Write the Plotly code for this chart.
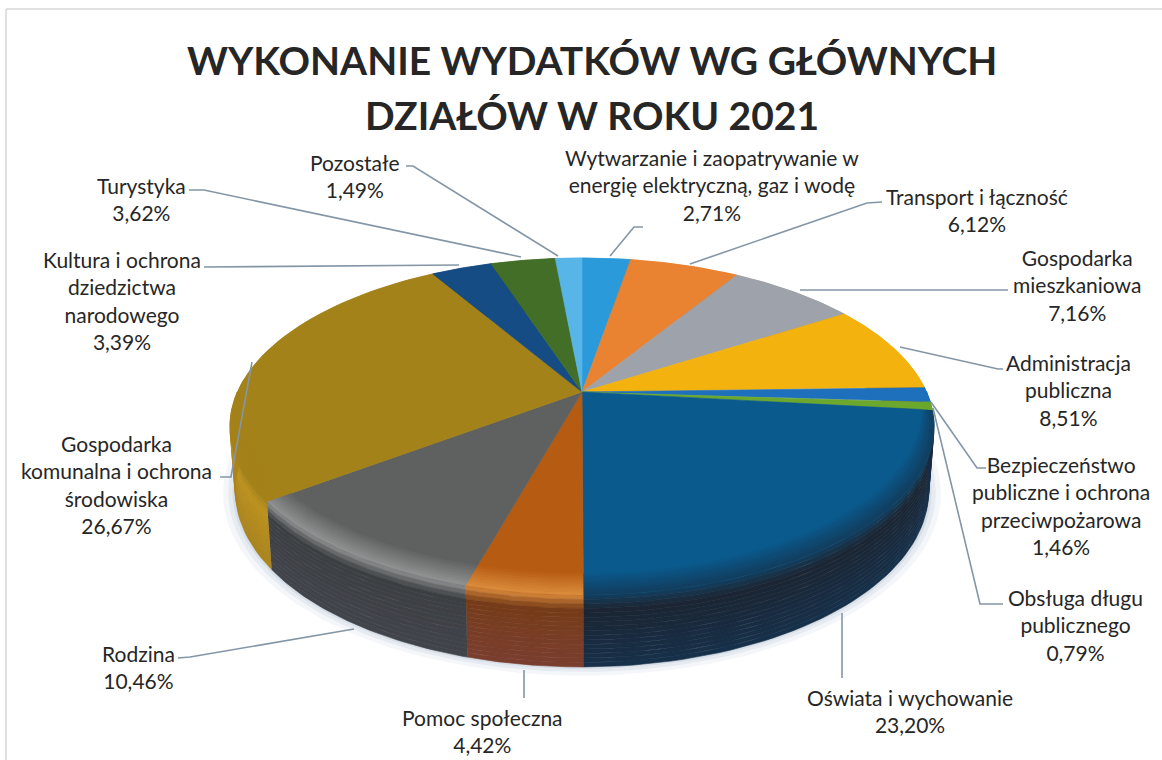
import numpy as np
import plotly.graph_objects as go

# ---- data ----
categories = ["Wytwarzanie i zaopatrywanie w<br>energię elektryczną, gaz i wodę",
              "Transport i łączność", "Gospodarka<br>mieszkaniowa",
              "Administracja<br>publiczna",
              "Bezpieczeństwo<br>publiczne i ochrona<br>przeciwpożarowa",
              "Obsługa długu<br>publicznego", "Oświata i wychowanie",
              "Pomoc społeczna", "Rodzina",
              "Gospodarka<br>komunalna i ochrona<br>środowiska",
              "Kultura i ochrona<br>dziedzictwa<br>narodowego", "Turystyka", "Pozostałe"]
values = [2.71, 6.12, 7.16, 8.51, 1.46, 0.79, 23.20, 4.42, 10.46, 26.67, 3.39, 3.62, 1.49]
top_colors = ["#2A9ADB", "#E98231", "#9EA2AA", "#F3B20E", "#1F70BC", "#6CA72E", "#0A5A8E",
              "#B55B12", "#5F6060", "#A4821A", "#154C84", "#426E28", "#58B5E8"]
rim_colors = ["#2A9ADB", "#E98231", "#9EA2AA", "#F3B20E", "#1F70BC", "#6CA72E", "#123F60",
              "#D98A3A", "#8E9090", "#A4821A", "#154C84", "#426E28", "#58B5E8"]
side_colors = ["#1B6FA0", "#A85A20", "#70747A", "#B08008", "#14507F", "#4A7A20", "#1B2532",
               "#763C18", "#3C3F42", "#BC901C", "#0F3760", "#2F5020", "#3A85AE"]
foot_colors = ["#1B6FA0", "#A85A20", "#70747A", "#B08008", "#14507F", "#4A7A20", "#17304A",
               "#7A3E30", "#42444C", "#A8821C", "#0F3760", "#2F5020", "#3A85AE"]

title_lines = ["WYKONANIE WYDATKÓW WG GŁÓWNYCH", "DZIAŁÓW W ROKU 2021"]
label_x = [712, 977, 1077, 1068, 1061, 1075, 910, 482, 138, 116, 122, 141, 355]
label_y = [185, 210, 285, 390, 505, 625, 711, 731, 667, 484, 300, 199, 176]
leaders = [
    ([643, 634, 610], [227, 227, 256]),
    ([882, 867, 690], [202, 203, 264]),
    ([1008, 950, 800], [290, 290, 290]),
    ([1003, 998, 900], [369, 369, 347]),
    ([986, 977, 931], [468, 468, 402]),
    ([1003, 980, 933], [604, 604, 408]),
    ([842, 842], [678, 613]),
    ([524, 524], [698, 670]),
    ([178, 190, 354], [658, 657, 629]),
    ([220, 231, 252], [477, 477, 362]),
    ([204, 459], [267, 265]),
    ([189, 204, 521], [190, 190, 257]),
    ([406, 413, 558], [166, 166, 256]),
]

# ---- perspective disc geometry ----
CX, CY, A, B, K = 582, 392, 344.6, 161.4, 0.2047
DEPTH_BACK, DEPTH_SLOPE = 62, 10


def project(theta, r=1.0, t=0.0):
    u, v = r * np.sin(theta), -r * np.cos(theta)
    w = 1 - K * v
    x = CX + A * u / w
    y = CY + B * v / w
    return CX + (x - CX) * (1 - 0.015 * t), y + t * (DEPTH_BACK + DEPTH_SLOPE * v)


def mix(c1, c2, f):
    a = [int(c1[i:i + 2], 16) for i in (1, 3, 5)]
    b = [int(c2[i:i + 2], 16) for i in (1, 3, 5)]
    return "#%02X%02X%02X" % tuple(round(p + (q - p) * f) for p, q in zip(a, b))


def poly(x, y, color, name=None):
    return go.Scatter(x=list(x), y=list(y), mode="lines", fill="toself", fillcolor=color,
                      line=dict(color=color, width=0.6), showlegend=False,
                      hoverinfo="text" if name else "skip",
                      text=name, hoveron="fills" if name else None)


fig = go.Figure()
edges = np.concatenate([[0], np.cumsum(values)]) / np.sum(values) * 2 * np.pi
whole = np.linspace(0, 2 * np.pi, 240)

# soft shadow below the disc
for grow, alpha in [(1.035, 0.10), (1.02, 0.14), (1.008, 0.20)]:
    sx, sy = project(whole, 1.0, 1.0)
    fig.add_trace(go.Scatter(x=CX + (sx - CX) * grow, y=(CY + 30) + (sy - CY - 30) * grow,
                             mode="lines", fill="toself", fillcolor=f"rgba(150,170,195,{alpha})",
                             line=dict(width=0), showlegend=False, hoverinfo="skip"))

# side wall, in bands
bands = np.linspace(0, 1, 17)
for i in range(len(values)):
    th = np.linspace(edges[i], edges[i + 1], 50)
    for j in range(len(bands) - 1):
        x0, y0 = project(th, 1.0, bands[j])
        x1, y1 = project(th, 1.0, bands[j + 1])
        f = (bands[j] + bands[j + 1]) / 2
        if f < 0.2:
            col = mix(rim_colors[i], side_colors[i], f / 0.2)
        else:
            col = mix(side_colors[i], foot_colors[i], (f - 0.2) / 0.8)
        fig.add_trace(poly(np.r_[x0, x1[::-1]], np.r_[y0, y1[::-1]], col))

# top face
for i, (name, val) in enumerate(zip(categories, values)):
    th = np.linspace(edges[i], edges[i + 1], 80)
    x, y = project(th)
    fig.add_trace(poly(np.r_[CX, x, CX], np.r_[CY, y, CY], top_colors[i],
                       name.replace("<br>", " ") + f": {val:.2f}%".replace(".", ",")))

# bevel at the front of the top face, tapering out towards the sides
rings = np.linspace(1, 0, 9)
BEVEL = 0.085
for i in range(len(values)):
    lo, hi = max(edges[i], np.pi * 0.5), min(edges[i + 1], np.pi * 1.5)
    if hi <= lo:
        continue
    th = np.linspace(lo, hi, 70)
    taper = BEVEL * np.sqrt(np.clip(-np.cos(th), 0, 1))
    for j in range(len(rings) - 1):
        x0, y0 = project(th, 1 - taper * rings[j])
        x1, y1 = project(th, 1 - taper * rings[j + 1])
        col = mix(top_colors[i], rim_colors[i], (j + 1) / (len(rings) - 1))
        fig.add_trace(poly(np.r_[x0, x1[::-1]], np.r_[y0, y1[::-1]], col))

# leader lines
for lx, ly in leaders:
    fig.add_trace(go.Scatter(x=lx, y=ly, mode="lines", line=dict(color="#8496A6", width=1.6),
                             showlegend=False, hoverinfo="skip"))

# labels
for name, val, x, y in zip(categories, values, label_x, label_y):
    fig.add_annotation(x=x, y=y, xref="x", yref="y", showarrow=False, align="center",
                       text=f"{name}<br>{val:.2f}%".replace(".", ","),
                       font=dict(family="Lato", size=21, color="#262626"))

for line, y in zip(title_lines, [60, 115]):
    fig.add_annotation(x=592, y=y, xref="x", yref="y", showarrow=False, text=f"<b>{line}</b>",
                       font=dict(family="Lato", size=39, color="#262626"))

fig.update_layout(
    width=1162, height=760, margin=dict(l=0, r=0, t=0, b=0),
    paper_bgcolor="white", plot_bgcolor="white", showlegend=False,
    xaxis=dict(range=[0, 1162], visible=False, fixedrange=True),
    yaxis=dict(range=[760, 0], visible=False, fixedrange=True),
    shapes=[
        dict(type="line", xref="x", yref="y", x0=6, x1=1162, y0=9, y1=9,
             line=dict(color="#D6D6D6", width=1.5)),
        dict(type="line", xref="x", yref="y", x0=6, x1=6, y0=9, y1=760,
             line=dict(color="#D6D6D6", width=1.5)),
    ],
)
fig.write_html("out.html", config={"displayModeBar": False},
               post_script="document.body.style.margin='0';document.documentElement.style.overflow='hidden';")
